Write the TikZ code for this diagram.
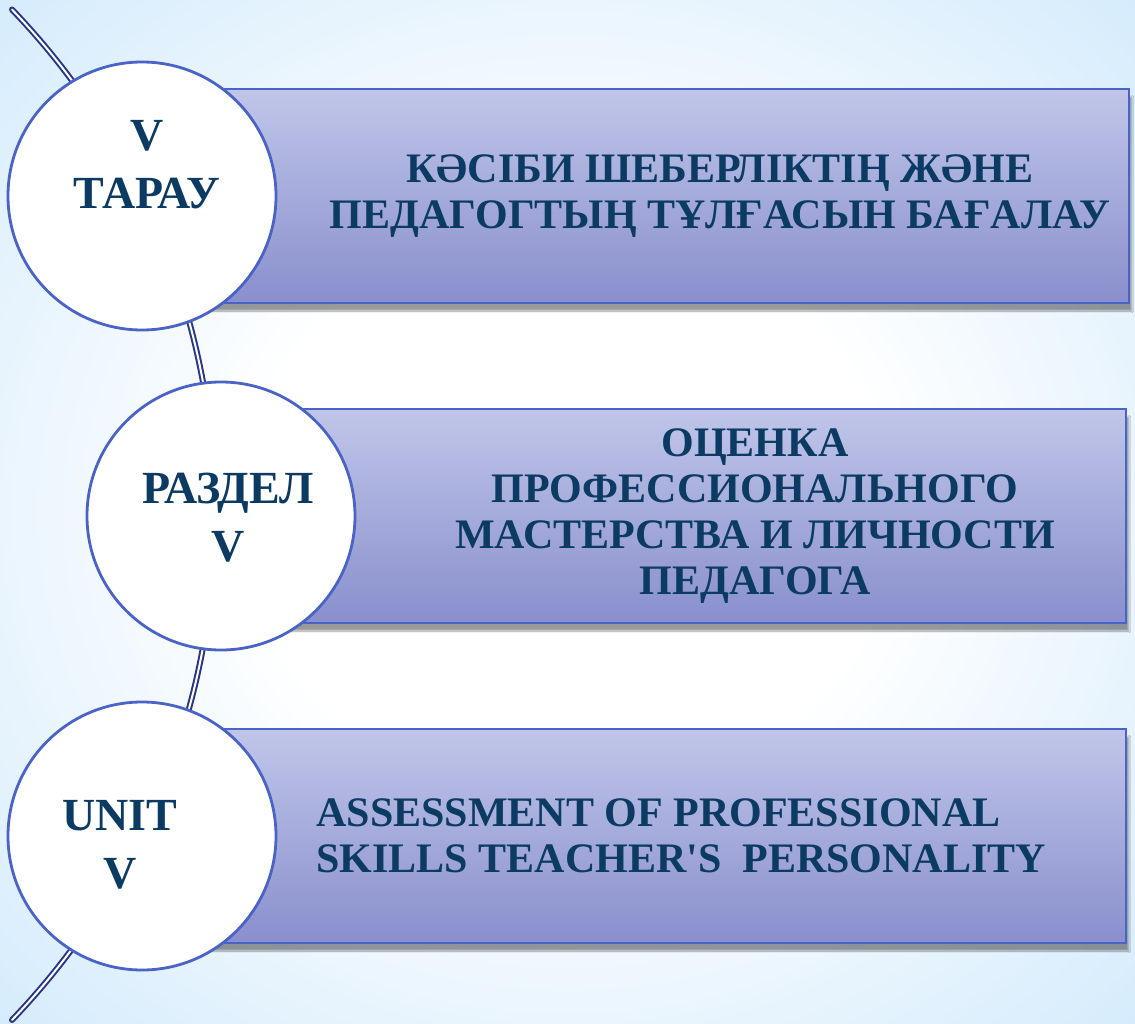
\documentclass[tikz,border=0pt]{standalone}
\usepackage{fontspec}
\setmainfont{Liberation Serif}[Ligatures=TeXOff]
\usetikzlibrary{shapes, shadows.blur, backgrounds}
\definecolor{navy}{RGB}{11,58,98}
\definecolor{rim}{RGB}{74,99,200}
\definecolor{spineblue}{RGB}{40,54,134}
\definecolor{bandtop}{RGB}{192,198,233}
\definecolor{bandbot}{RGB}{137,143,204}
\definecolor{bgblue}{RGB}{212,235,252}
\pgfdeclareradialshading{bgshade}{\pgfpoint{0bp}{0bp}}{color(0bp)=(white); color(14bp)=(white); color(36bp)=(bgblue); color(50bp)=(bgblue)}

\begin{document}
\begin{tikzpicture}[x=1pt, y=-1pt, node distance=320pt]
        \tikzstyle{disc} = [circle, minimum size=268pt, inner sep=0pt, draw=rim, line width=2.8pt, fill=white]
        \tikzstyle{band} = [rectangle, minimum height=214pt, anchor=west, draw=rim, line width=1.5pt, top color=bandtop, bottom color=bandbot, blur shadow={shadow xshift=3pt, shadow yshift=-8pt, shadow blur steps=12, shadow opacity=40}]
        \tikzstyle{disctext} = [text=navy, align=center, font=\fontsize{46}{58}\selectfont\bfseries]
        \tikzstyle{bandtext} = [text=navy, align=center, font=\fontsize{42}{46}\selectfont\bfseries]
        \tikzstyle{spine} = [draw=spineblue, line width=2pt, double=white, double distance=2pt, line cap=round]

        \useasboundingbox (0,0) rectangle (1135,1024);

        \node (c1) [disc] at (142,196) {};
        \node (c2) [disc, below of=c1, xshift=79pt] {};
        \node (c3) [disc, below of=c2, xshift=-79pt] {};

        \begin{scope}[on background layer]
            \shade[shading=bgshade] (0,0) rectangle (1135,1024);
            \draw[spine] (12,1020) arc[start angle=-43.8, end angle=43.8, radius=730pt];
            \node (r1) [band, minimum width=986pt] at (c1.center) {};
            \node (r2) [band, minimum width=904pt] at (c2.center) {};
            \node (r3) [band, minimum width=983pt] at (c3.center) {};
        \end{scope}

        \node (l1) [disctext] at ([xshift=5pt, yshift=31pt]c1.center) {V\\ТАРАУ};
        \node (l2) [disctext] at ([xshift=7pt, yshift=-2pt]c2.center) {РАЗДЕЛ\\V};
        \node (l3) [disctext] at ([xshift=-22pt, yshift=-9pt]c3.center) {UNIT\\V};

        \node (t1) [bandtext, right of=c1, xshift=258pt] {КӘСІБИ ШЕБЕРЛІКТІҢ ЖӘНЕ\\ПЕДАГОГТЫҢ ТҰЛҒАСЫН БАҒАЛАУ};
        \node (t2) [bandtext, right of=c2, xshift=214pt] {ОЦЕНКА\\ПРОФЕССИОНАЛЬНОГО\\МАСТЕРСТВА И ЛИЧНОСТИ\\ПЕДАГОГА};
        \node (t3) [bandtext, align=left, right of=c3, anchor=west, xshift=-149pt] {ASSESSMENT OF PROFESSIONAL\\SKILLS TEACHER'S\ \ PERSONALITY};

    \end{tikzpicture}
\end{document}
